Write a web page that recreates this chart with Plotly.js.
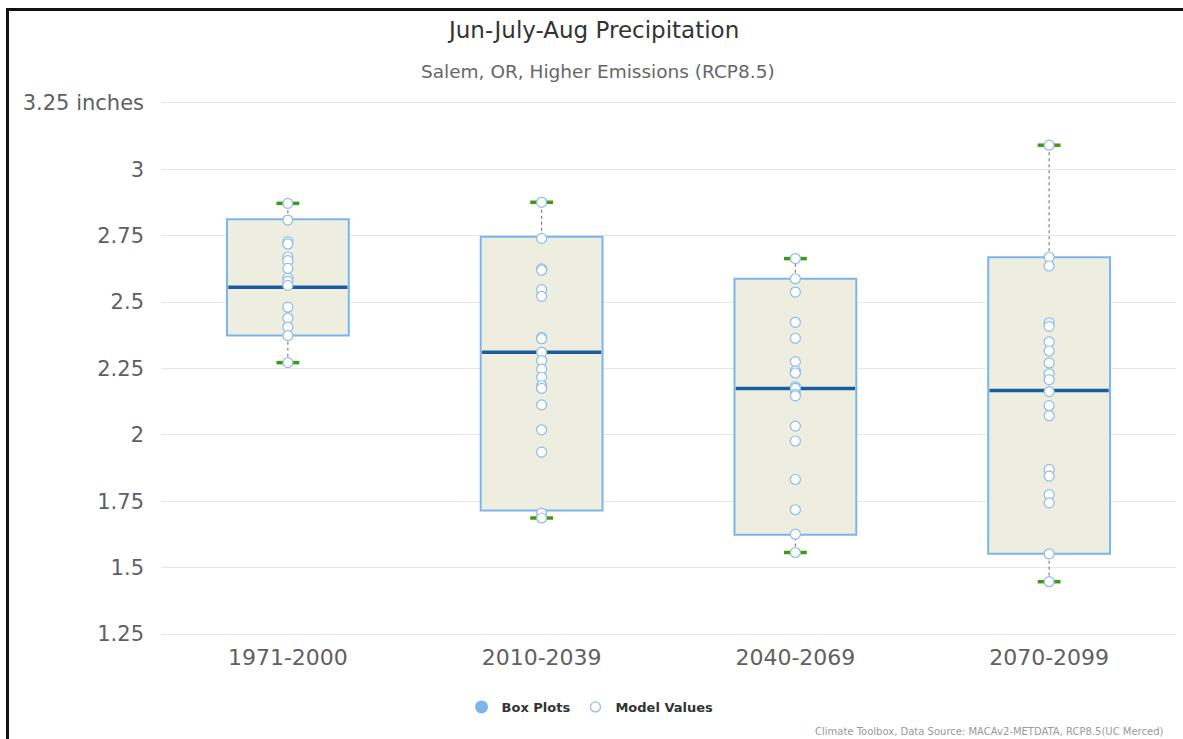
<!DOCTYPE html>
<html>
<head>
<meta charset="utf-8">
<script src="https://cdn.plot.ly/plotly-3.0.1.min.js"></script>
<style>
  html, body { margin: 0; padding: 0; background: #fff; }
  #chart { position: absolute; left: 0; top: 0; width: 1183px; height: 739px; }
  #frame { position: absolute; left: 6px; top: 8px; width: 1177px; height: 731px;
           border-top: 3px solid #111; border-left: 3px solid #111; box-sizing: border-box;
           pointer-events: none; z-index: 10; }
</style>
</head>
<body>
<div id="chart"></div>
<div id="frame"></div>
<script>
// ---- data ----
const periods = ["1971-2000", "2010-2039", "2040-2069", "2070-2099"];

// box statistics (inches): box = 10th-90th percentile, whiskers = min/max
const boxMin    = [2.272, 1.687, 1.557, 1.447];
const boxLow    = [2.374, 1.715, 1.624, 1.552];
const boxMedian = [2.556, 2.311, 2.175, 2.167];
const boxHigh   = [2.812, 2.746, 2.588, 2.669];
const boxMax    = [2.872, 2.876, 2.664, 3.091];

// individual model values per period
const models1971 = [2.872, 2.809, 2.727, 2.719, 2.669, 2.656, 2.627, 2.590, 2.578, 2.563, 2.481, 2.440, 2.406, 2.374, 2.272];
const models2010 = [2.876, 2.740, 2.625, 2.620, 2.547, 2.522, 2.367, 2.362, 2.311, 2.280, 2.248, 2.217, 2.185, 2.175, 2.113, 2.019, 1.935, 1.705, 1.687];
const models2040 = [2.664, 2.588, 2.538, 2.424, 2.364, 2.276, 2.241, 2.233, 2.181, 2.175, 2.153, 2.147, 2.033, 1.977, 1.832, 1.718, 1.626, 1.557];
const models2070 = [3.091, 2.669, 2.636, 2.422, 2.409, 2.350, 2.316, 2.271, 2.230, 2.208, 2.163, 2.110, 2.072, 1.870, 1.845, 1.775, 1.744, 1.552, 1.447];

const yTickVals = [1.25, 1.5, 1.75, 2, 2.25, 2.5, 2.75, 3, 3.25];
const yTickText = ["1.25", "1.5", "1.75", "2", "2.25", "2.5", "2.75", "3", "3.25 inches"];

// ---- build traces ----
const idx = periods.map((_, i) => i);
const BOX_HALF = 0.24, CAP_HALF = 0.045;
const modelSets = [models1971, models2010, models2040, models2070];

const boxTrace = {
  type: "bar", x: idx, base: boxLow, y: boxHigh.map((h, i) => h - boxLow[i]),
  width: BOX_HALF * 2, showlegend: false, hoverinfo: "skip",
  marker: { color: "#eeeee0", line: { color: "#7cb5ec", width: 2 } }
};

const wx = [], wy = [];
idx.forEach(i => { wx.push(i, i, null, i, i, null); wy.push(boxHigh[i], boxMax[i], null, boxMin[i], boxLow[i], null); });
const whiskerTrace = { type: "scatter", mode: "lines", x: wx, y: wy, showlegend: false, hoverinfo: "skip",
  line: { color: "#8b5a3c", width: 1, dash: "dot" } };

const cx = [], cy = [];
idx.forEach(i => { cx.push(i - CAP_HALF, i + CAP_HALF, null, i - CAP_HALF, i + CAP_HALF, null);
                   cy.push(boxMax[i], boxMax[i], null, boxMin[i], boxMin[i], null); });
const capTrace = { type: "scatter", mode: "lines", x: cx, y: cy, showlegend: false, hoverinfo: "skip",
  line: { color: "#3f9a0f", width: 3.5 } };

const mx = [], my = [];
idx.forEach(i => { mx.push(i - BOX_HALF + 0.005, i + BOX_HALF - 0.005, null); my.push(boxMedian[i], boxMedian[i], null); });
const medianTrace = { type: "scatter", mode: "lines", x: mx, y: my, showlegend: false, hoverinfo: "skip",
  line: { color: "#1b5c9e", width: 3.5 } };

const px = [], py = [];
modelSets.forEach((set, i) => set.forEach(v => { px.push(i); py.push(v); }));
const pointTrace = { type: "scatter", mode: "markers", x: px, y: py, name: "Model Values",
  marker: { symbol: "circle", size: 10, color: "#ffffff", line: { color: "#8dbbe8", width: 1.2 } } };

const legendBox = { type: "scatter", mode: "markers", x: [null], y: [null], name: "Box Plots",
  marker: { symbol: "circle", size: 13, color: "#7cb5ec" } };

const data = [boxTrace, whiskerTrace, capTrace, medianTrace, legendBox, pointTrace];

// plot area: top 101px, bottom at 636px (height 535px)
const PB = 636, PH = 535;
const py2paper = p => (PB - p) / PH;

const layout = {
  width: 1183, height: 739,
  margin: { l: 161, r: 7, t: 101, b: 103 },
  paper_bgcolor: "#ffffff", plot_bgcolor: "#ffffff",
  font: { family: "DejaVu Sans, sans-serif", color: "#606060" },
  showlegend: true,
  legend: { orientation: "h", x: 0.4227, xanchor: "center", y: py2paper(707), yanchor: "middle",
            font: { family: "DejaVu Sans, sans-serif", size: 13, color: "#333333", weight: "bold" },
            itemwidth: 30, traceorder: "normal" },
  xaxis: { range: [-0.5, 3.5], tickvals: idx, ticktext: periods, showgrid: false, zeroline: false,
           showline: false, ticks: "", ticklabelstandoff: 6,
           tickfont: { family: "DejaVu Sans, sans-serif", size: 22, color: "#606060" }, fixedrange: true },
  yaxis: { range: [1.2425, 3.2575], tickvals: yTickVals, ticktext: yTickText, showgrid: true,
           gridcolor: "#e6e6e6", gridwidth: 1, zeroline: false, showline: false, ticks: "",
           ticklabelstandoff: 16,
           tickfont: { family: "DejaVu Sans, sans-serif", size: 21, color: "#606060" }, fixedrange: true },
  annotations: [
    { text: "Jun-July-Aug Precipitation", xref: "paper", yref: "paper", x: 0.4256, y: py2paper(30),
      xanchor: "center", yanchor: "middle", showarrow: false,
      font: { family: "DejaVu Sans, sans-serif", size: 23, color: "#333333" } },
    { text: "Salem, OR, Higher Emissions (RCP8.5)", xref: "paper", yref: "paper", x: 0.4305, y: py2paper(71),
      xanchor: "center", yanchor: "middle", showarrow: false,
      font: { family: "DejaVu Sans, sans-serif", size: 18.5, color: "#666666" } },
    { text: "Climate Toolbox, Data Source: MACAv2-METDATA, RCP8.5(UC Merced)", xref: "paper", yref: "paper",
      x: 0.989, y: py2paper(731), xanchor: "right", yanchor: "middle", showarrow: false,
      font: { family: "DejaVu Sans, sans-serif", size: 10, color: "#999999" } }
  ]
};

Plotly.newPlot("chart", data, layout, { displayModeBar: false, staticPlot: true });
</script>
</body>
</html>
